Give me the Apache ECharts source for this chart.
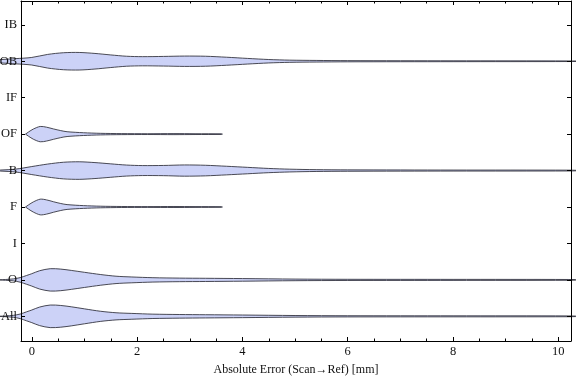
<!DOCTYPE html>
<html><head><meta charset="utf-8">
<script src="https://cdn.jsdelivr.net/npm/echarts@6/dist/echarts.min.js"></script>
<style>html,body{margin:0;padding:0;background:#fff}#c{width:576px;height:381px}</style>
</head><body><div id="c"></div>
<script>
// Categories (bottom to top)
const categories = ['All', 'O', 'I', 'F', 'B', 'OF', 'IF', 'OB', 'IB'];
const xTickLabels = [0, 2, 4, 6, 8, 10];
const xMinorTicks = [0.5, 1, 1.5, 2.5, 3, 3.5, 4.5, 5, 5.5, 6.5, 7, 7.5, 8.5, 9, 9.5];
const axisTitle = 'Absolute Error (Scan\u2192Ref) [mm]';

// Violin profiles: error value and half-width (density, in category units)
const allX = [-0.62, -0.5, -0.35, -0.22, -0.1, 0, 0.15, 0.35, 0.55, 0.75, 1.0, 1.3, 1.6, 1.9, 2.3, 2.8, 3.3, 4, 5, 6, 8, 10.2, 10.45];
const allW = [0, 0.011, 0.027, 0.063, 0.123, 0.173, 0.255, 0.31, 0.298, 0.262, 0.205, 0.14, 0.098, 0.08, 0.06, 0.05, 0.044, 0.036, 0.022, 0.016, 0.014, 0.011, 0];
const oX = [-0.62, -0.5, -0.35, -0.22, -0.1, 0, 0.15, 0.35, 0.55, 0.75, 1.0, 1.3, 1.6, 1.9, 2.3, 2.8, 3.3, 4, 5, 6, 8, 10.2, 10.45];
const oW = [0, 0.011, 0.027, 0.063, 0.12, 0.17, 0.252, 0.307, 0.296, 0.26, 0.208, 0.148, 0.101, 0.08, 0.06, 0.049, 0.044, 0.036, 0.022, 0.016, 0.014, 0.011, 0];
const fX = [-0.12, -0.06, 0.03, 0.16, 0.28, 0.41, 0.55, 0.67, 0.98, 1.3, 1.7, 2.2, 2.7, 3.1, 3.6, 3.62];
const fW = [0, 0.06, 0.14, 0.215, 0.195, 0.145, 0.096, 0.066, 0.038, 0.022, 0.014, 0.011, 0.014, 0.011, 0.008, 0];
const ofX = [-0.12, -0.06, 0.03, 0.16, 0.28, 0.41, 0.55, 0.67, 0.98, 1.3, 1.7, 2.2, 2.7, 3.1, 3.6, 3.62];
const ofW = [0, 0.06, 0.14, 0.21, 0.19, 0.143, 0.096, 0.066, 0.038, 0.022, 0.014, 0.011, 0.014, 0.011, 0.008, 0];
const bX = [-0.9, -0.6, -0.3, 0, 0.3, 0.6, 0.9, 1.2, 1.5, 1.8, 2.1, 2.5, 2.9, 3.3, 3.7, 4.1, 4.5, 4.9, 5.4, 6, 8, 10.2, 10.5];
const bW = [0, 0.014, 0.041, 0.11, 0.178, 0.228, 0.241, 0.219, 0.184, 0.151, 0.137, 0.14, 0.154, 0.145, 0.118, 0.088, 0.058, 0.038, 0.025, 0.019, 0.014, 0.011, 0];
const obX = [-1.0, -0.6, -0.3, 0, 0.3, 0.6, 0.9, 1.2, 1.5, 1.8, 2.1, 2.5, 2.9, 3.3, 3.7, 4.1, 4.5, 4.9, 5.4, 6, 8, 10.2, 10.5];
const obW = [0, 0.045, 0.072, 0.104, 0.187, 0.233, 0.241, 0.214, 0.173, 0.137, 0.126, 0.132, 0.142, 0.137, 0.11, 0.077, 0.047, 0.03, 0.022, 0.016, 0.012, 0.008, 0];

const violins = [
  { cat: 'All', xs: allX, ws: allW },
  { cat: 'O', xs: oX, ws: oW },
  { cat: 'F', xs: fX, ws: fW },
  { cat: 'B', xs: bX, ws: bW },
  { cat: 'OF', xs: ofX, ws: ofW },
  { cat: 'OB', xs: obX, ws: obW }
];

const FONT = 'Liberation Serif';
const TXT = { fontFamily: FONT, fontSize: 12.5, color: '#111' };
const TITLE = { fontFamily: FONT, fontSize: 12, color: '#111' };

function renderItem(params, api) {
  const v = violins[params.dataIndex];
  const c = categories.indexOf(v.cat);
  const top = v.xs.map((x, i) => api.coord([x, c + v.ws[i]]));
  const bot = v.xs.map((x, i) => api.coord([x, c - v.ws[i]])).reverse();
  return {
    type: 'polygon',
    shape: { points: top.concat(bot), smooth: 0.3 },
    style: { fill: 'rgb(204,210,247)', stroke: 'rgba(45,45,55,0.85)', lineWidth: 1 }
  };
}

const chart = echarts.init(document.getElementById('c'), null, { renderer: 'canvas' });
const lineStyle = { color: '#000', width: 1 };
chart.setOption({
  animation: false,
  backgroundColor: '#fff',
  grid: { left: 21, right: 5, top: 1, bottom: 40, containLabel: false, outerBoundsMode: 'none' },
  xAxis: [
    { type: 'value', min: -0.205, max: 10.24, position: 'bottom', z: 10,
      axisLine: { show: true, onZero: false, lineStyle }, splitLine: { show: false },
      axisTick: { show: true, inside: true, length: 4, lineStyle, customValues: xTickLabels },
      axisLabel: Object.assign({ margin: 4, customValues: xTickLabels }, TXT),
      name: axisTitle, nameLocation: 'middle', nameGap: 23, nameTextStyle: TITLE },
    { type: 'value', min: -0.205, max: 10.24, position: 'bottom', z: 10,
      axisLine: { show: false, onZero: false }, splitLine: { show: false }, axisLabel: { show: false },
      axisTick: { show: true, inside: true, length: 2.5, lineStyle, customValues: xMinorTicks } },
    { type: 'value', min: -0.205, max: 10.24, position: 'top', z: 10,
      axisLine: { show: true, onZero: false, lineStyle }, splitLine: { show: false }, axisLabel: { show: false },
      axisTick: { show: true, inside: true, length: 4, lineStyle, customValues: xTickLabels } },
    { type: 'value', min: -0.205, max: 10.24, position: 'top', z: 10,
      axisLine: { show: false, onZero: false }, splitLine: { show: false }, axisLabel: { show: false },
      axisTick: { show: true, inside: true, length: 2.5, lineStyle, customValues: xMinorTicks } }
  ],
  yAxis: [
    { type: 'value', min: -0.677, max: 8.653, position: 'left', z: 10,
      axisLine: { show: true, onZero: false, lineStyle }, splitLine: { show: false },
      axisTick: { show: true, inside: true, length: 4, lineStyle, customValues: categories.map((_, i) => i) },
      axisLabel: Object.assign({ margin: 4, customValues: categories.map((_, i) => i),
        formatter: (val) => categories[Math.round(val)] }, TXT) },
    { type: 'value', min: -0.677, max: 8.653, position: 'right', z: 10,
      axisLine: { show: true, onZero: false, lineStyle }, splitLine: { show: false }, axisLabel: { show: false },
      axisTick: { show: true, inside: true, length: 4, lineStyle, customValues: categories.map((_, i) => i) } }
  ],
  series: [{
    type: 'custom',
    coordinateSystem: 'cartesian2d',
    xAxisIndex: 0, yAxisIndex: 0,
    clip: false,
    z: 1,
    renderItem,
    encode: { x: 0, y: 1 },
    data: violins.map(v => [v.xs[0], categories.indexOf(v.cat)])
  }]
});
</script>
</body></html>
